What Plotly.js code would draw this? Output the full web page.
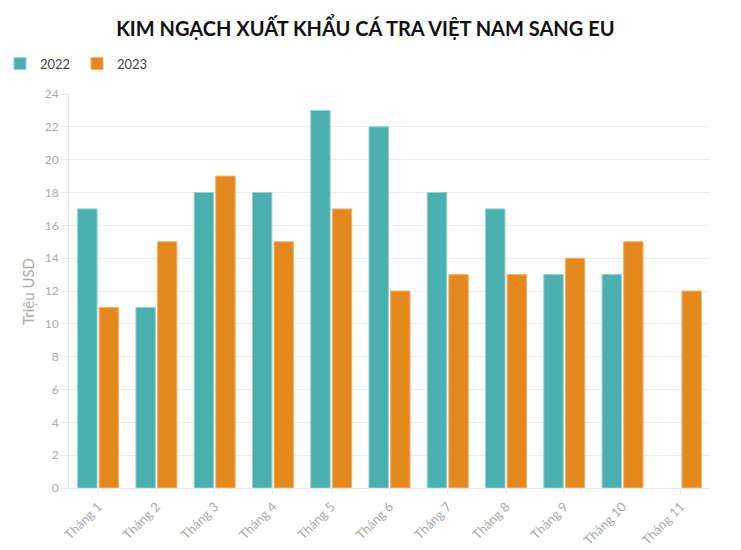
<!DOCTYPE html>
<html>
<head>
<meta charset="utf-8">
<script src="https://cdn.plot.ly/plotly-3.0.1.min.js"></script>
<style>html,body{margin:0;padding:0;background:#fff;}#chart{width:741px;height:550px;}</style>
</head>
<body>
<div id="chart"></div>
<script>
const categories = ["Tháng 1","Tháng 2","Tháng 3","Tháng 4","Tháng 5","Tháng 6","Tháng 7","Tháng 8","Tháng 9","Tháng 10","Tháng 11"];
const values2022 = [17, 11, 18, 18, 23, 22, 18, 17, 13, 13, null];
const values2023 = [11, 15, 19, 15, 17, 12, 13, 13, 14, 15, 12];
const yTicks = [0,2,4,6,8,10,12,14,16,18,20,22,24];

const fontFam = "'Source Sans Pro', Lato, 'Noto Sans', sans-serif";
const data = [
  {type:'bar', name:'2022', x:categories, y:values2022,
   marker:{color:'#4aafaf', line:{color:'#8fd0cf', width:1}}},
  {type:'bar', name:'2023', x:categories, y:values2023,
   marker:{color:'#e5891f', line:{color:'#f0b26a', width:1}}}
];
const layout = {
  width:741, height:550,
  margin:{l:69, r:31, t:94, b:62, autoexpand:false},
  paper_bgcolor:'#fff', plot_bgcolor:'#fff',
  font:{family:fontFam, color:'#444'},
  title:{text:'<b>KIM NGẠCH XUẤT KHẨU CÁ TRA VIỆT NAM SANG EU</b>', x:0.493, xanchor:'center', y:0.947, yanchor:'middle',
         font:{size:20, color:'#111', family:fontFam}},
  barmode:'group', bargap:0.26, bargroupgap:0.1,
  showlegend:true,
  legend:{orientation:'h', xref:'container', x:0, xanchor:'left', y:1.077, yanchor:'middle', font:{size:13, color:'#444'},
          itemwidth:30, entrywidth:32, entrywidthmode:'pixels', traceorder:'normal'},
  xaxis:{type:'category', tickangle:-45, tickfont:{size:13, color:'#aaa'},
         showline:true, linecolor:'#e8e8e8', linewidth:1, ticks:'outside', ticklen:5, tickcolor:'#e8e8e8',
         showgrid:false, zeroline:false, automargin:false},
  yaxis:{range:[0,24], tickvals:yTicks, ticktext:yTicks.map(String), tickfont:{size:12, color:'#aaa'},
         showline:true, linecolor:'#e8e8e8', linewidth:1, ticks:'outside', ticklen:7, tickcolor:'#e8e8e8',
         gridcolor:'#ececec', zeroline:false, automargin:false},
  annotations:[{text:'Triệu USD', xref:'paper', yref:'paper', x:-0.064, y:0.5, xanchor:'center', yanchor:'middle',
                textangle:-90, showarrow:false, font:{size:15, color:'#aaa', family:fontFam}}]
};
Plotly.newPlot('chart', data, layout, {displayModeBar:false});
</script>
</body>
</html>
